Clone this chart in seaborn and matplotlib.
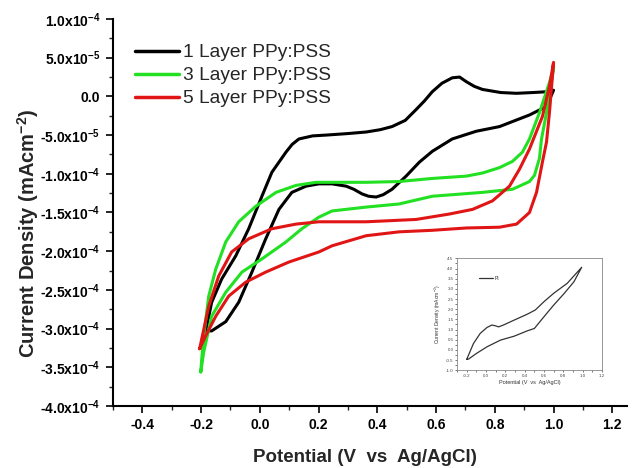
import matplotlib
matplotlib.use("Agg")
import matplotlib.pyplot as plt
import seaborn as sns
import pandas as pd
from matplotlib.ticker import FixedLocator, FixedFormatter, MultipleLocator, AutoMinorLocator

# ---------------- data ----------------
series_names = ["1 Layer PPy:PSS", "3 Layer PPy:PSS", "5 Layer PPy:PSS"]
series_colors = ["#000000", "#22e022", "#e01515"]

# 1 layer: anodic (upper) then cathodic (lower) branch
l1_x = [-0.184, -0.164, -0.130, -0.082, -0.038, 0.007, 0.041, 0.089, 0.110, 0.133,
        0.180, 0.225, 0.300, 0.362, 0.410, 0.450, 0.495, 0.532, 0.560, 0.587, 0.620, 0.655, 0.680,
        0.703, 0.730, 0.758, 0.820, 0.874, 0.930, 0.976, 1.000,
        0.976, 0.918, 0.816, 0.737, 0.655, 0.587, 0.543, 0.498, 0.450, 0.420, 0.396, 0.370, 0.348,
        0.320, 0.294, 0.246, 0.201, 0.157, 0.109, 0.065, 0.020, -0.027, -0.072, -0.116, -0.164,
        -0.184]
l1_y = [-3.03e-4, -2.66e-4, -2.36e-4, -2.06e-4, -1.71e-4, -1.29e-4, -0.98e-4, -0.72e-4, -0.62e-4,
        -0.55e-4, -0.51e-4, -0.50e-4, -0.48e-4, -0.46e-4, -0.43e-4, -0.39e-4,
        -0.31e-4, -0.17e-4, -0.06e-4, 0.06e-4, 0.17e-4, 0.24e-4, 0.25e-4, 0.19e-4, 0.13e-4, 0.09e-4,
        0.05e-4, 0.04e-4, 0.05e-4, 0.06e-4, 0.08e-4,
        -0.13e-4, -0.24e-4, -0.39e-4, -0.45e-4, -0.55e-4, -0.71e-4, -0.85e-4, -1.03e-4, -1.20e-4,
        -1.27e-4, -1.30e-4, -1.29e-4, -1.26e-4, -1.20e-4, -1.16e-4, -1.13e-4, -1.13e-4, -1.16e-4,
        -1.24e-4, -1.46e-4, -1.84e-4, -2.27e-4, -2.66e-4, -2.91e-4, -3.03e-4, -3.03e-4]

# 3 layer
l3_x = [-0.201, -0.198, -0.191, -0.174, -0.150, -0.116, -0.072, -0.014, 0.055, 0.123, 0.191, 0.246,
        0.362, 0.474, 0.587, 0.703, 0.758, 0.816, 0.860, 0.894, 0.918, 0.952, 0.986, 1.000,
        0.976, 0.959, 0.952, 0.935, 0.918, 0.860, 0.758, 0.587, 0.474, 0.362, 0.246, 0.201, 0.143,
        0.089, 0.007, -0.061, -0.116, -0.164, -0.191, -0.201]
l3_y = [-3.56e-4, -3.40e-4, -3.09e-4, -2.58e-4, -2.23e-4, -1.88e-4, -1.62e-4, -1.42e-4, -1.24e-4,
        -1.15e-4, -1.11e-4, -1.11e-4, -1.11e-4, -1.10e-4, -1.06e-4, -1.03e-4, -0.99e-4, -0.92e-4,
        -0.84e-4, -0.72e-4, -0.55e-4, -0.21e-4, 0.18e-4, 0.36e-4,
        -0.21e-4, -0.55e-4, -0.80e-4, -1.02e-4, -1.10e-4, -1.20e-4, -1.24e-4, -1.29e-4, -1.39e-4,
        -1.43e-4, -1.48e-4, -1.56e-4, -1.71e-4, -1.88e-4, -2.10e-4, -2.27e-4, -2.53e-4, -2.84e-4,
        -3.30e-4, -3.56e-4]

# 5 layer
l5_x = [-0.205, -0.174, -0.140, -0.096, -0.038, 0.041, 0.123, 0.201, 0.362, 0.532, 0.645, 0.724,
        0.792, 0.850, 0.884, 0.918, 0.962, 0.986, 1.000,
        0.986, 0.976, 0.962, 0.942, 0.918, 0.874, 0.816, 0.703, 0.587, 0.474, 0.362, 0.246, 0.201,
        0.099, 0.020, -0.048, -0.106, -0.150, -0.184, -0.205]
l5_y = [-3.26e-4, -2.71e-4, -2.32e-4, -2.01e-4, -1.84e-4, -1.71e-4, -1.65e-4, -1.62e-4, -1.62e-4,
        -1.59e-4, -1.52e-4, -1.46e-4, -1.35e-4, -1.16e-4, -0.94e-4, -0.68e-4, -0.26e-4, 0.13e-4,
        0.44e-4,
        -0.21e-4, -0.59e-4, -0.85e-4, -1.24e-4, -1.50e-4, -1.65e-4, -1.69e-4, -1.70e-4, -1.73e-4,
        -1.75e-4, -1.80e-4, -1.93e-4, -2.01e-4, -2.14e-4, -2.27e-4, -2.40e-4, -2.58e-4, -2.84e-4,
        -3.09e-4, -3.26e-4]

# inset (Pt)
pt_x = [-0.20, -0.13, -0.06, 0.01, 0.06, 0.10, 0.13, 0.18, 0.29, 0.43, 0.51, 0.60, 0.70, 0.84, 0.99,
        0.91, 0.81, 0.70, 0.60, 0.50, 0.43, 0.29, 0.15, 0.01, -0.10, -0.18, -0.20]
pt_y = [-0.47, 0.31, 0.81, 1.10, 1.22, 1.18, 1.13, 1.22, 1.46, 1.76, 1.96, 2.37, 2.78, 3.27, 4.06,
        3.35, 2.78, 2.20, 1.63, 1.05, 0.94, 0.67, 0.48, 0.15, -0.18, -0.45, -0.47]

y_ticks = [-4.0e-4, -3.5e-4, -3.0e-4, -2.5e-4, -2.0e-4, -1.5e-4, -1.0e-4, -5.0e-5, 0.0, 5.0e-5, 1.0e-4]
y_tick_labels = [r"-4.0x10$^{\mathbf{-4}}$", r"-3.5x10$^{\mathbf{-4}}$", r"-3.0x10$^{\mathbf{-4}}$",
                 r"-2.5x10$^{\mathbf{-4}}$", r"-2.0x10$^{\mathbf{-4}}$", r"-1.5x10$^{\mathbf{-4}}$",
                 r"-1.0x10$^{\mathbf{-4}}$", r"-5.0x10$^{\mathbf{-5}}$", "0.0",
                 r"5.0x10$^{\mathbf{-5}}$", r"1.0x10$^{\mathbf{-4}}$"]
x_ticks = [-0.4, -0.2, 0.0, 0.2, 0.4, 0.6, 0.8, 1.0, 1.2]
x_tick_labels = ["-0.4", "-0.2", "0.0", "0.2", "0.4", "0.6", "0.8", "1.0", "1.2"]

# ---------------- plotting ----------------
sns.set_style("ticks")
plt.rcParams["font.family"] = ["Liberation Sans", "DejaVu Sans"]
plt.rcParams["mathtext.fontset"] = "custom"
plt.rcParams["mathtext.rm"] = "Liberation Sans"
plt.rcParams["mathtext.bf"] = "Liberation Sans:bold"
plt.rcParams["mathtext.it"] = "Liberation Sans:italic"

fig = plt.figure(figsize=(6.33, 4.68), dpi=100)
ax = fig.add_axes([0.1785, 0.1325, 0.812, 0.8269])

frames = []
for name, xs, ys in zip(series_names, [l1_x, l3_x, l5_x], [l1_y, l3_y, l5_y]):
    frames.append(pd.DataFrame({"x": xs, "y": ys, "series": name}))

for name, color, df in zip(series_names, series_colors, frames):
    sns.lineplot(data=df, x="x", y="y", sort=False, estimator=None, color=color,
                 linewidth=2.2, ax=ax, label=name)

ax.set_xlim(-0.5, 1.25)
ax.set_ylim(-4.0e-4, 1.0e-4)
ax.xaxis.set_major_locator(FixedLocator(x_ticks))
ax.xaxis.set_major_formatter(FixedFormatter(x_tick_labels))
ax.xaxis.set_minor_locator(MultipleLocator(0.1))
ax.yaxis.set_major_locator(FixedLocator(y_ticks))
ax.yaxis.set_major_formatter(FixedFormatter(y_tick_labels))
ax.yaxis.set_minor_locator(MultipleLocator(2.5e-5))
for lab in ax.get_xticklabels() + ax.get_yticklabels():
    lab.set_fontweight("bold")
    lab.set_fontsize(10)
ax.tick_params(which="major", direction="out", length=5, width=1.2, colors="black", pad=4)
ax.tick_params(which="minor", direction="out", length=3, width=1.0)
for s in ["top", "right"]:
    ax.spines[s].set_visible(False)
for s in ["left", "bottom"]:
    ax.spines[s].set_linewidth(1.5)
    ax.spines[s].set_color("black")

ax.set_xlabel("Potential (V  vs  Ag/AgCl)", fontsize=13.5, fontweight="bold")
ax.set_ylabel(r"Current Density (mAcm$^{\mathbf{-2}}$)", fontsize=14.5, fontweight="bold")
ax.yaxis.set_label_coords(-0.14, 0.445)
ax.xaxis.set_label_coords(0.49, -0.11)
ax.xaxis.label.set_va("top")

leg = ax.legend(loc="upper left", bbox_to_anchor=(0.02, 0.965), frameon=False, fontsize=13.8,
                handlelength=2.3, handletextpad=0.2, labelspacing=0.29, borderaxespad=0.2)
for h in leg.get_lines():
    h.set_linewidth(2.5)

# ---------------- inset ----------------
ins = fig.add_axes([0.722, 0.209, 0.229, 0.239])
df_pt = pd.DataFrame({"x": pt_x, "y": pt_y})
sns.lineplot(data=df_pt, x="x", y="y", sort=False, estimator=None, color="#333333",
             linewidth=0.9, ax=ins, label="Pt")
ins.set_xlim(-0.3, 1.2)
ins.set_ylim(-1.0, 4.5)
ins.xaxis.set_major_locator(FixedLocator([-0.2, 0.0, 0.2, 0.4, 0.6, 0.8, 1.0, 1.2]))
ins.yaxis.set_major_locator(MultipleLocator(0.5))
ins.xaxis.set_minor_locator(MultipleLocator(0.1))
ins.yaxis.set_minor_locator(AutoMinorLocator(2))
ins.xaxis.set_major_formatter(plt.FuncFormatter(lambda v, p: f"{v:.1f}"))
ins.yaxis.set_major_formatter(plt.FuncFormatter(lambda v, p: f"{v:.1f}"))
ins.tick_params(which="both", labelsize=3.2, length=1.5, width=0.5, pad=1, colors="#444444")
for s in ins.spines.values():
    s.set_linewidth(0.6)
    s.set_color("#888888")
ins.set_xlabel("Potential (V  vs  Ag/AgCl)", fontsize=4, labelpad=2, color="#333333")
ins.set_ylabel(r"Current Density (mAcm$^{-2}$)", fontsize=3.6, labelpad=2, color="#333333")
ileg = ins.legend(loc="upper left", bbox_to_anchor=(0.12, 0.88), frameon=False, fontsize=3.5,
                  handlelength=3, handletextpad=0.3)

fig.savefig("out.png", dpi=100)
